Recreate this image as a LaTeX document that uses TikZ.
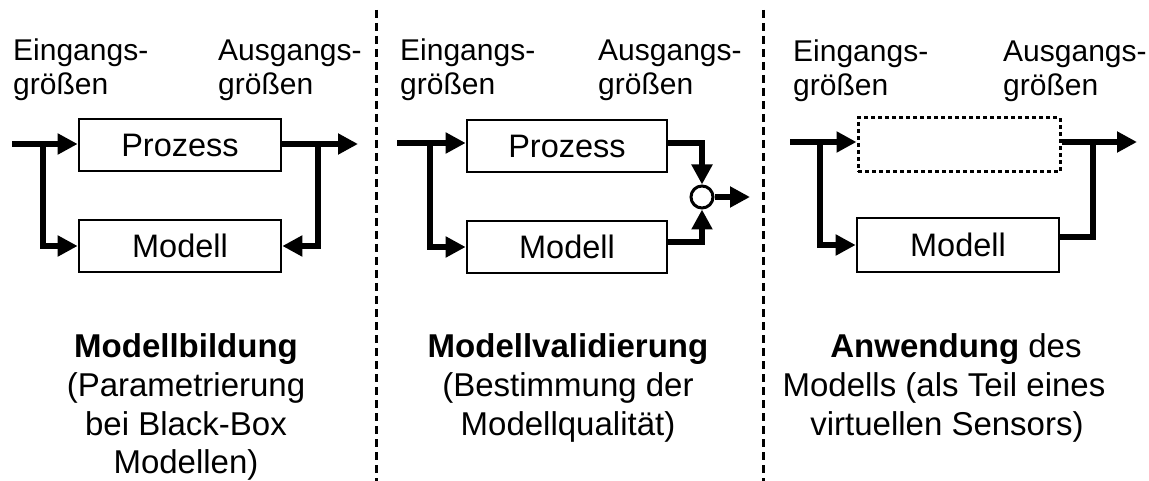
\documentclass[tikz,border=0pt]{standalone}
\usepackage{fontspec}
\setmainfont{Liberation Sans}
\usetikzlibrary{arrows.meta}
\begin{document}
\begin{tikzpicture}[x=1pt,y=-1pt,
  blk/.style={draw, line width=2.7pt, minimum width=202pt, minimum height=52pt,
    inner sep=0pt, font=\fontsize{32.5}{38}\selectfont},
  ghost/.style={blk, dash pattern=on 4pt off 3pt, line width=3pt},
  conn/.style={line width=6pt, line join=miter},
  arr/.style={-{Triangle[length=20pt,width=20pt]}},
  lbl/.style={anchor=base west, inner sep=0pt, font=\fontsize{30}{34}\selectfont},
  captext/.style={anchor=base, inner sep=0pt, font=\fontsize{33}{40}\selectfont},
  divider/.style={line width=3pt, dash pattern=on 8pt off 5pt}]
\useasboundingbox (0,0) rectangle (1149,481);

% dividers between the three stages
\draw[divider] (376,10) -- (376,481);
\draw[divider] (763,10) -- (763,481);

% ---------- stage 1: model building ----------
\node[lbl] (e1a) at (13,61) {Eingangs-};
\node[lbl] (e1b) at (13,95) {größen};
\node[lbl] (a1a) at (218,61) {Ausgangs-};
\node[lbl] (a1b) at (218,95) {größen};

\node[blk] (P1) at (180,145) {Prozess};
\node[blk] (M1) at (180,246) {Modell};

\coordinate (in1) at (12,144);
\coordinate (b1) at (43,144);
\coordinate (o1) at (318,144);
\coordinate (out1) at (358,144);

\draw[conn,arr] (in1) -- (P1.west |- in1);
\draw[conn,arr] (b1) |- (M1.west);
\draw[conn,arr] (P1.east |- in1) -- (out1);
\draw[conn,arr] (o1) |- (M1.east);

\node[captext] (c1a) at (186,357) {\textbf{Modellbildung}};
\node[captext] (c1b) at (186,396) {(Parametrierung};
\node[captext] (c1c) at (186,435) {bei Black-Box};
\node[captext] (c1d) at (186,473) {Modellen)};

% ---------- stage 2: model validation ----------
\node[lbl] (e2a) at (400,61) {Eingangs-};
\node[lbl] (e2b) at (400,95) {größen};
\node[lbl] (a2a) at (598,61) {Ausgangs-};
\node[lbl] (a2b) at (598,95) {größen};

\node[blk, minimum width=200pt] (P2) at (567,146) {Prozess};
\node[blk, minimum width=200pt] (M2) at (567,247) {Modell};
\node[draw, circle, line width=3pt, minimum size=22pt, inner sep=0pt, fill=white] (S) at (702,197) {};

\coordinate (in2) at (397,143);
\coordinate (b2) at (430,143);
\coordinate (out2) at (750,197);

\draw[conn,arr] (in2) -- (P2.west |- in2);
\draw[conn,arr] (b2) |- (M2.west);
\draw[conn,arr] (P2.east |- in2) -| (S.north);
\draw[conn,arr] ([yshift=5pt]M2.east) -| (S.south);
\draw[conn,arr] (S.east) -- (out2);

\node[captext] (c2a) at (568,357) {\textbf{Modellvalidierung}};
\node[captext] (c2b) at (568,396) {(Bestimmung der};
\node[captext] (c2c) at (568,435) {Modellqualität)};

% ---------- stage 3: application ----------
\node[lbl] (e3a) at (793,62) {Eingangs-};
\node[lbl] (e3b) at (793,96) {größen};
\node[lbl] (a3a) at (1003,62) {Ausgangs-};
\node[lbl] (a3b) at (1003,96) {größen};

\node[ghost, minimum height=54pt] (D3) at (959,145) {};
\node[blk, minimum height=54pt] (M3) at (958,245) {Modell};

\coordinate (in3) at (790,142);
\coordinate (b3) at (820,142);
\coordinate (o3) at (1093,142);
\coordinate (out3) at (1137,142);

\draw[conn,arr] (in3) -- (D3.west |- in3);
\draw[conn,arr] (b3) |- (M3.west);
\draw[conn,arr] (D3.east |- in3) -- (out3);
\draw[conn] (o3) |- ([yshift=8pt]M3.east);

\node[captext] (c3a) at (956,357) {\textbf{Anwendung} des};
\node[captext] (c3b) at (944,396) {Modells (als Teil eines};
\node[captext] (c3c) at (947,435) {virtuellen Sensors)};
\end{tikzpicture}
\end{document}
